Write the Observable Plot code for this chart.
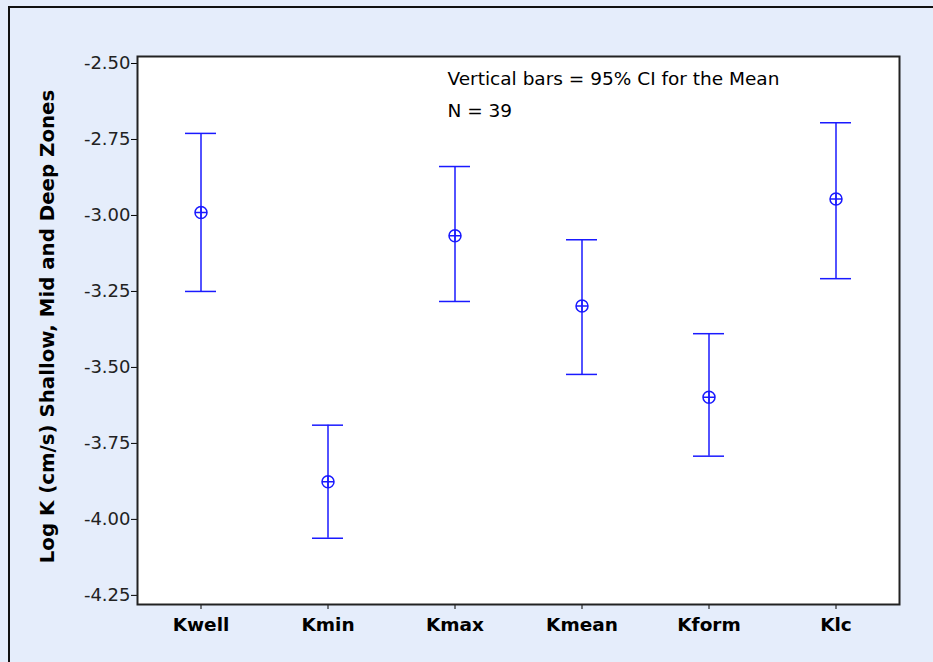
<!DOCTYPE html>
<html>
<head>
<meta charset="utf-8">
<script src="https://cdn.jsdelivr.net/npm/d3@7"></script>
<script src="https://cdn.jsdelivr.net/npm/@observablehq/plot@0.6"></script>
<style>
  html, body { margin: 0; padding: 0; background: #e5edfb; }
  #wrap { position: relative; width: 933px; height: 662px; background: #e5edfb; overflow: hidden; }
  #border { position: absolute; left: 8px; top: 6px; width: 940px; height: 670px;
            border-left: 2px solid #111; border-top: 2px solid #111; pointer-events: none; }
  #chart { position: absolute; left: 0; top: 0; }
</style>
</head>
<body>
<div id="wrap"><div id="chart"></div><div id="border"></div></div>
<script>
const categories = ["Kwell", "Kmin", "Kmax", "Kmean", "Kform", "Klc"];
const means = [-2.990, -3.876, -3.067, -3.298, -3.598, -2.946];
const lower = [-3.250, -4.062, -3.283, -3.523, -3.792, -3.208];
const upper = [-2.730, -3.690, -2.839, -3.080, -3.389, -2.695];
const yTicks = [-2.50, -2.75, -3.00, -3.25, -3.50, -3.75, -4.00, -4.25];
const yLabel = "Log K (cm/s) Shallow, Mid and Deep Zones";
const noteLines = ["Vertical bars = 95% CI for the Mean", "N = 39"];

const data = categories.map((c, i) => ({cat: c, mean: means[i], lo: lower[i], hi: upper[i]}));

const crossCircle = {
  draw(ctx, size) {
    const r = Math.sqrt(size / Math.PI);
    ctx.moveTo(r, 0);
    ctx.arc(0, 0, r, 0, 2 * Math.PI);
    ctx.moveTo(-r, 0); ctx.lineTo(r, 0);
    ctx.moveTo(0, -r); ctx.lineTo(0, r);
  }
};

const blue = "#1a1aff";

const chart = Plot.plot({
  width: 933,
  height: 662,
  marginLeft: 137,
  marginRight: 34,
  marginTop: 56,
  marginBottom: 58,
  style: {fontFamily: "DejaVu Sans", fontSize: "17px", color: "#000", background: "transparent"},
  x: {type: "band", domain: categories, padding: 0},
  y: {domain: [-4.28, -2.477]},
  marks: [
    Plot.frame({fill: "white"}),
    Plot.axisY({ticks: yTicks, tickFormat: d => d.toFixed(2), tickSize: 6, tickPadding: 1, label: null, fontSize: 18, style: {letterSpacing: "2.2px"}, fill: "#222"}),
    Plot.axisX({tickSize: 5, tickPadding: 8, label: null, fontWeight: "bold", fontSize: 18.5}),
    Plot.text([yLabel], {frameAnchor: "left", text: d => d, rotate: -90, dx: -90, dy: -4, textAnchor: "middle", fontWeight: "bold", fontSize: 19.8, fill: "#000"}),
    Plot.text([noteLines.join("\n")], {frameAnchor: "top-left", text: d => d, textAnchor: "start", lineAnchor: "top", dx: 310, dy: 6, fontSize: 18.5, lineHeight: 1.72, fill: "#000"}),
    Plot.ruleX(data, {x: "cat", y1: "lo", y2: "hi", stroke: blue, strokeWidth: 1.5}),
    Plot.tickY(data, {x: "cat", y: "hi", stroke: blue, strokeWidth: 1.5, insetLeft: 48, insetRight: 48}),
    Plot.tickY(data, {x: "cat", y: "lo", stroke: blue, strokeWidth: 1.5, insetLeft: 48, insetRight: 48}),
    Plot.dot(data, {x: "cat", y: "mean", r: 6, symbol: crossCircle, stroke: blue, fill: "none", strokeWidth: 1.5}),
    Plot.frame({stroke: "#222", strokeWidth: 2})
  ]
});
document.getElementById("chart").appendChild(chart);
</script>
</body>
</html>
